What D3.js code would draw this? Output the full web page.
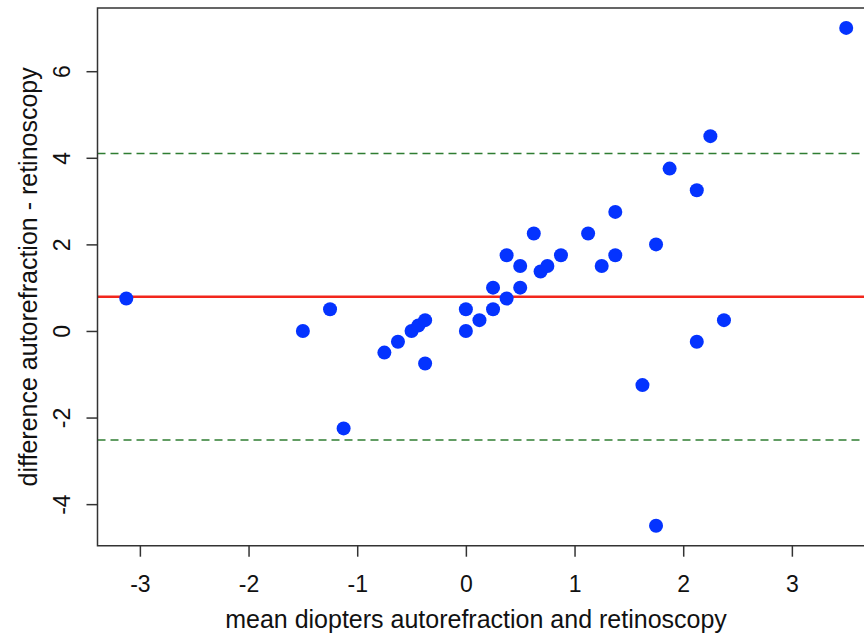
<!DOCTYPE html>
<html>
<head>
<meta charset="utf-8">
<script src="https://d3js.org/d3.v7.min.js"></script>
<style>
  body { margin: 0; background: #fff; }
  text { font-family: "Liberation Sans", Arial, Helvetica, sans-serif; fill: #111; }
</style>
</head>
<body>
<div id="chart"></div>
<script>
// mean of the two methods (x) and their difference (y)
var meanDiopters = [-3.125, -1.5, -1.25, -1.125, -0.75, -0.625, -0.5, -0.4375, -0.375, -0.375,
                    0, 0, 0.125, 0.25, 0.25, 0.375, 0.375, 0.5, 0.5, 0.625,
                    0.6875, 0.75, 0.875, 1.125, 1.25, 1.375, 1.375, 1.625, 1.75, 1.75,
                    1.875, 2.125, 2.125, 2.25, 2.375, 3.5];
var difference   = [0.75, 0, 0.5, -2.25, -0.5, -0.25, 0, 0.125, 0.25, -0.75,
                    0.5, 0, 0.25, 0.5, 1.0, 0.75, 1.75, 1.0, 1.5, 2.25,
                    1.375, 1.5, 1.75, 2.25, 1.5, 1.75, 2.75, -1.25, 2.0, -4.5,
                    3.75, 3.25, -0.25, 4.5, 0.25, 7.0];
var meanDiff = 0.79;                 // red line
var limits = [4.1, -2.52];           // dashed limits of agreement
var xTicks = [-3, -2, -1, 0, 1, 2, 3];
var yTicks = [-4, -2, 0, 2, 4, 6];

var W = 864, H = 635;
var mLeft = 97.5, mTop = 8, mBottom = 545.7, mRight = 875;

var svg = d3.select("#chart").append("svg")
  .attr("width", W).attr("height", H);

// R style: pad the data range by 4% on each side
function pad(ext) { var d = (ext[1] - ext[0]) * 0.04; return [ext[0] - d, ext[1] + d]; }

var x = d3.scaleLinear().domain(pad(d3.extent(meanDiopters))).range([mLeft, mRight]);
var y = d3.scaleLinear().domain(pad(d3.extent(difference))).range([mBottom, mTop]);

var pts = meanDiopters.map(function(m, i) { return {x: m, y: difference[i]}; });

// reference lines
svg.append("line")
  .attr("x1", mLeft).attr("x2", mRight)
  .attr("y1", y(meanDiff)).attr("y2", y(meanDiff))
  .attr("stroke", "#f2261c").attr("stroke-width", 2.6);

svg.selectAll(".loa").data(limits).enter().append("line")
  .attr("x1", mLeft).attr("x2", mRight)
  .attr("y1", function(d) { return y(d); }).attr("y2", function(d) { return y(d); })
  .attr("stroke", "#2f7d32").attr("stroke-width", 1.5)
  .attr("stroke-dasharray", "8,5");

// points
svg.selectAll("circle").data(pts).enter().append("circle")
  .attr("cx", function(d) { return x(d.x); })
  .attr("cy", function(d) { return y(d.y); })
  .attr("r", 7)
  .attr("fill", "#0433ff");

// box (right side is outside the window)
svg.append("path")
  .attr("d", "M" + mRight + "," + mTop + "H" + mLeft + "V" + mBottom + "H" + mRight)
  .attr("fill", "none").attr("stroke", "#333").attr("stroke-width", 1.5);

function minus(d) { return d < 0 ? "-" + Math.abs(d) : d; }

// x axis
var xAxis = d3.axisBottom(x).tickValues(xTicks).tickSize(11).tickPadding(19);
var gx = svg.append("g").attr("transform", "translate(0," + mBottom + ")").call(xAxis);
gx.select(".domain").remove();
gx.selectAll(".tick line").attr("stroke", "#333").attr("stroke-width", 1.5);
gx.selectAll(".tick text").style("font-size", "23px").attr("fill", "#111").text(minus);

// y axis, labels rotated like R
var yAxis = d3.axisLeft(y).tickValues(yTicks).tickSize(11);
var gy = svg.append("g").attr("transform", "translate(" + mLeft + ",0)").call(yAxis);
gy.select(".domain").remove();
gy.selectAll(".tick line").attr("stroke", "#333").attr("stroke-width", 1.5);
gy.selectAll(".tick text")
  .attr("x", null)
  .attr("text-anchor", "middle")
  .attr("transform", "translate(-36,0) rotate(-90)")
  .attr("dy", "0.35em")
  .style("font-size", "23px").attr("fill", "#111")
  .text(minus);

// titles
svg.append("text")
  .attr("x", 476).attr("y", 628)
  .attr("text-anchor", "middle")
  .style("font-size", "25px")
  .text("mean diopters autorefraction and retinoscopy");

svg.append("text")
  .attr("transform", "translate(37," + ((mTop + mBottom) / 2) + ") rotate(-90)")
  .attr("text-anchor", "middle")
  .style("font-size", "25px")
  .text("difference autorefraction - retinoscopy");
</script>
</body>
</html>
